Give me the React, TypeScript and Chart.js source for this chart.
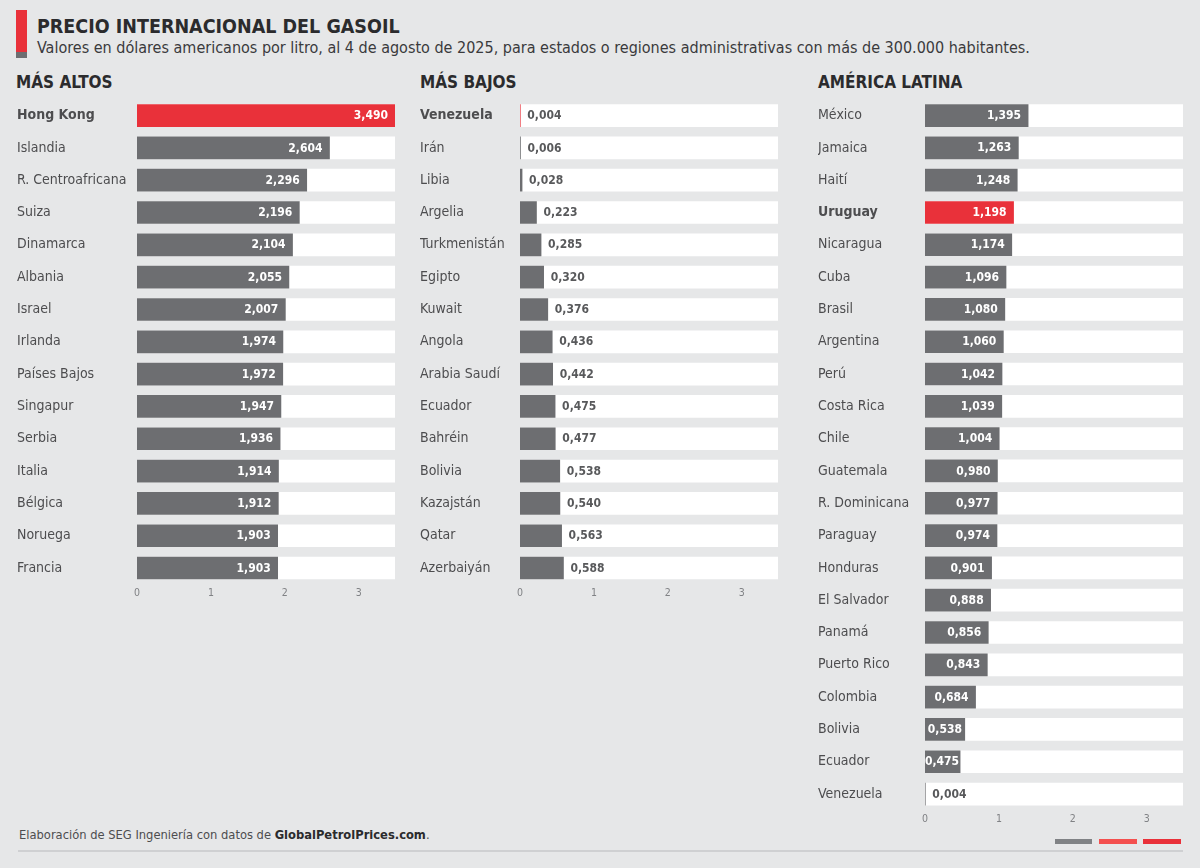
import React, { useEffect, useRef } from 'react';
import { Chart, registerables } from 'chart.js';

Chart.register(...registerables);

const FONT = "'DejaVu Sans Condensed', 'Liberation Sans Narrow', 'Roboto Condensed', 'DejaVu Sans', sans-serif";

const RED = '#e9313a';
const LIGHT_RED = '#f4504f';
const GRAY = '#6d6e71';
const BG = '#e6e7e8';
const TEXT = '#4d4d4f';
const DARK = '#2b2b2d';

const altosLabels = ['Hong Kong', 'Islandia', 'R. Centroafricana', 'Suiza', 'Dinamarca', 'Albania', 'Israel', 'Irlanda', 'Países Bajos', 'Singapur', 'Serbia', 'Italia', 'Bélgica', 'Noruega', 'Francia'];
const altosValues = [3.49, 2.604, 2.296, 2.196, 2.104, 2.055, 2.007, 1.974, 1.972, 1.947, 1.936, 1.914, 1.912, 1.903, 1.903];

const bajosLabels = ['Venezuela', 'Irán', 'Libia', 'Argelia', 'Turkmenistán', 'Egipto', 'Kuwait', 'Angola', 'Arabia Saudí', 'Ecuador', 'Bahréin', 'Bolivia', 'Kazajstán', 'Qatar', 'Azerbaiyán'];
const bajosValues = [0.004, 0.006, 0.028, 0.223, 0.285, 0.32, 0.376, 0.436, 0.442, 0.475, 0.477, 0.538, 0.54, 0.563, 0.588];

const latamLabels = ['México', 'Jamaica', 'Haití', 'Uruguay', 'Nicaragua', 'Cuba', 'Brasil', 'Argentina', 'Perú', 'Costa Rica', 'Chile', 'Guatemala', 'R. Dominicana', 'Paraguay', 'Honduras', 'El Salvador', 'Panamá', 'Puerto Rico', 'Colombia', 'Bolivia', 'Ecuador', 'Venezuela'];
const latamValues = [1.395, 1.263, 1.248, 1.198, 1.174, 1.096, 1.08, 1.06, 1.042, 1.039, 1.004, 0.98, 0.977, 0.974, 0.901, 0.888, 0.856, 0.843, 0.684, 0.538, 0.475, 0.004];

const tickValues = [0, 1, 2, 3];
const SCALE_MAX = 3.49;

const fmt = (v: number) => v.toFixed(3).replace('.', ',');

const valuePlugin = (inside: boolean) => ({
  id: 'valueLabels',
  afterDatasetsDraw(chart: any) {
    const ctx = chart.ctx as CanvasRenderingContext2D;
    const meta = chart.getDatasetMeta(0);
    const vals = chart.data.datasets[0].data as number[];
    ctx.save();
    ctx.font = `bold 12px ${FONT}`;
    ctx.textBaseline = 'middle';
    meta.data.forEach((el: any, i: number) => {
      const text = fmt(vals[i]);
      const barW = el.x - el.base;
      const w = ctx.measureText(text).width;
      if (inside && barW > 25) {
        const off = Math.min(7, Math.max(1, (barW - w) / 2));
        ctx.fillStyle = '#ffffff';
        ctx.textAlign = 'right';
        ctx.fillText(text, el.x - off, el.y + 0.5);
      } else {
        ctx.fillStyle = '#58595b';
        ctx.textAlign = 'left';
        ctx.fillText(text, el.x + 7, el.y + 0.5);
      }
    });
    ctx.restore();
  },
});

type PanelProps = {
  labels: string[];
  values: number[];
  highlight: number;
  barHighlight: number;
  inside: boolean;
  left: number;
  top: number;
  width: number;
  height: number;
  axisWidth: number;
  padRight: number;
};

function Panel(p: PanelProps) {
  const ref = useRef<HTMLCanvasElement>(null);
  useEffect(() => {
    const chart = new Chart(ref.current as HTMLCanvasElement, {
      type: 'bar',
      data: {
        labels: p.labels,
        datasets: [
          {
            data: p.values,
            backgroundColor: p.values.map((_, i) => (i === p.barHighlight ? RED : GRAY)),
            barThickness: 22,
            grouped: false,
            order: 1,
          } as any,
          {
            data: p.labels.map(() => SCALE_MAX),
            backgroundColor: '#ffffff',
            barThickness: 22,
            grouped: false,
            order: 2,
          } as any,
        ],
      },
      options: {
        indexAxis: 'y',
        responsive: false,
        animation: false,
        events: [],
        layout: { padding: { top: 7.8, right: p.padRight, left: 0, bottom: 0 } },
        plugins: { legend: { display: false }, tooltip: { enabled: false } },
        scales: {
          x: {
            min: 0,
            max: SCALE_MAX,
            grid: { display: false, drawTicks: false },
            border: { display: false },
            afterBuildTicks: (axis: any) => {
              axis.ticks = tickValues.map((v) => ({ value: v }));
            },
            afterFit: (axis: any) => {
              axis.height = 26.8;
            },
            ticks: {
              font: { family: FONT, size: 10.5 },
              color: '#808285',
              padding: 3,
              autoSkip: false,
              maxRotation: 0,
              callback: (v: any) => String(v),
            },
          },
          y: {
            grid: { display: false, drawTicks: false },
            border: { display: false },
            afterFit: (axis: any) => {
              axis.width = p.axisWidth;
            },
            ticks: {
              crossAlign: 'far',
              color: TEXT,
              autoSkip: false,
              padding: 0,
              font: (ctx: any) => ({ family: FONT, size: 14, weight: ctx.index === p.highlight ? 'bold' : 'normal' }),
            },
          },
        },
      } as any,
      plugins: [valuePlugin(p.inside)],
    });
    return () => chart.destroy();
  }, []);
  return (
    <canvas
      ref={ref}
      width={p.width}
      height={p.height}
      style={{ position: 'absolute', left: p.left, top: p.top, width: p.width, height: p.height }}
    />
  );
}

const abs = (left: number, top: number, extra: React.CSSProperties = {}): React.CSSProperties => ({
  position: 'absolute',
  left,
  top,
  whiteSpace: 'nowrap',
  ...extra,
});

export default function App() {
  const headerStyle: React.CSSProperties = { fontSize: 17, fontWeight: 'bold', lineHeight: '17px', color: DARK };
  return (
    <div
      style={{
        position: 'absolute',
        left: 0,
        top: 0,
        width: 1200,
        height: 868,
        background: BG,
        overflow: 'hidden',
        fontFamily: FONT,
      }}
    >
      <div style={abs(16, 10, { width: 11, height: 42, background: RED })} />
      <div style={abs(16, 52, { width: 11, height: 6, background: GRAY })} />
      <div style={abs(37, 16.5, { fontSize: 19.5, fontWeight: 'bold', lineHeight: '19.5px', color: DARK })}>
        PRECIO INTERNACIONAL DEL GASOIL
      </div>
      <div style={abs(37, 39.5, { fontSize: 16, lineHeight: '16px', color: '#3a3a3c' })}>
        Valores en dólares americanos por litro, al 4 de agosto de 2025, para estados o regiones administrativas con más de 300.000 habitantes.
      </div>

      <div style={abs(16, 74, headerStyle)}>MÁS ALTOS</div>
      <div style={abs(420, 74, headerStyle)}>MÁS BAJOS</div>
      <div style={abs(818, 74, headerStyle)}>AMÉRICA LATINA</div>

      <Panel
        labels={altosLabels}
        values={altosValues}
        highlight={0}
        barHighlight={0}
        inside={true}
        left={17}
        top={91}
        width={388}
        height={520}
        axisWidth={120}
        padRight={10}
      />
      <Panel
        labels={bajosLabels}
        values={bajosValues}
        highlight={0}
        barHighlight={0}
        inside={false}
        left={420}
        top={91}
        width={368}
        height={520}
        axisWidth={100}
        padRight={10}
      />
      <Panel
        labels={latamLabels}
        values={latamValues}
        highlight={3}
        barHighlight={3}
        inside={true}
        left={818}
        top={91}
        width={375}
        height={746}
        axisWidth={107}
        padRight={10}
      />

      <div style={abs(19, 828, { fontSize: 12.8, lineHeight: '13px', color: TEXT })}>
        Elaboración de SEG Ingeniería con datos de <b style={{ color: DARK }}>GlobalPetrolPrices.com</b>.
      </div>
      <div style={abs(18, 850, { width: 1165, height: 2, background: '#cfd0d2' })} />
      <div style={abs(1055, 839, { width: 37, height: 5, background: '#808285' })} />
      <div style={abs(1099, 839, { width: 38, height: 5, background: LIGHT_RED })} />
      <div style={abs(1143, 839, { width: 38, height: 5, background: RED })} />
    </div>
  );
}
